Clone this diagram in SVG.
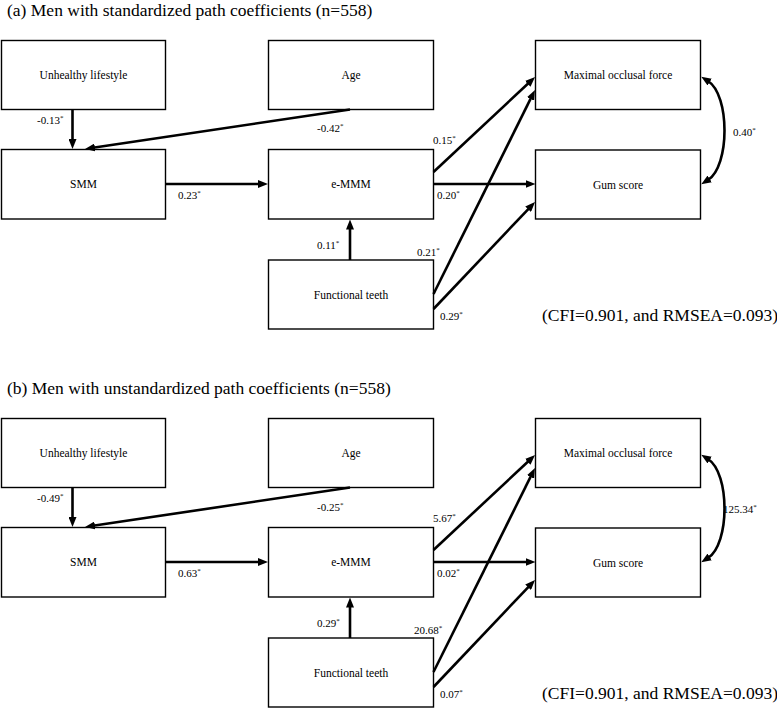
<svg xmlns="http://www.w3.org/2000/svg" width="777" height="709" viewBox="0 0 777 709">
<style>
text{font-family:"Liberation Serif","Times New Roman",serif;fill:#000}
.title{font-size:17.5px}
.fit{font-size:17.5px}
.node rect{fill:#fff;stroke:#000;stroke-width:1.4}
.node text{font-size:11.5px;text-anchor:middle}
.lbl{font-size:11px}
.sup{font-size:7px}
.conn line,.conn path{stroke:#000;stroke-width:2.6;fill:none;marker-end:url(#ah)}
.conn path.dbl{marker-start:url(#ah)}
</style>
<defs>
<marker id="ah" markerUnits="userSpaceOnUse" markerWidth="10" markerHeight="8" refX="2" refY="4" orient="auto-start-reverse">
<path d="M0,0 L10,4 L0,8 z" fill="#000"/>
</marker>
</defs>
<rect width="777" height="709" fill="#fff"/>

<g id="panel-a">
<text class="title" x="7" y="15.5">(a) Men with standardized path coefficients (n=558)</text>
<g id="a-unhealthy" class="node"><rect x="1.5" y="40.5" width="164" height="69"/><text x="83.5" y="79">Unhealthy lifestyle</text></g>
<g id="a-age" class="node"><rect x="268.5" y="40.5" width="165" height="69"/><text x="351" y="79">Age</text></g>
<g id="a-mof" class="node"><rect x="535.5" y="40.5" width="165" height="69"/><text x="618" y="79">Maximal occlusal force</text></g>
<g id="a-smm" class="node"><rect x="1.5" y="149.5" width="164" height="69.5"/><text x="83.5" y="188">SMM</text></g>
<g id="a-emmm" class="node"><rect x="268.5" y="149.5" width="165" height="69.5"/><text x="351" y="188">e-MMM</text></g>
<g id="a-gum" class="node"><rect x="535.5" y="150" width="165" height="69"/><text x="618" y="188.5">Gum score</text></g>
<g id="a-teeth" class="node"><rect x="268.5" y="260" width="165" height="69"/><text x="351" y="298.5">Functional teeth</text></g>
<g id="a-connectors" class="conn">
<line x1="72.5" y1="109.5" x2="72.5" y2="141"/>
<line x1="350" y1="109.5" x2="92.9" y2="147.8"/>
<line x1="165.5" y1="184" x2="260" y2="184"/>
<line x1="350" y1="260" x2="350" y2="227.5"/>
<line x1="433.5" y1="172" x2="529.2" y2="82.5"/>
<line x1="433.5" y1="184" x2="527.5" y2="184"/>
<line x1="433.5" y1="294" x2="531.4" y2="97.2"/>
<line x1="433.5" y1="309" x2="529.5" y2="207.8"/>
<path class="dbl" d="M708,81 C730,95 730,166 708,180"/>
</g>
<g id="a-labels" class="lbl">
<text class="lbl" x="37" y="124">-0.13<tspan class="sup" dy="-4">*</tspan></text>
<text class="lbl" x="317" y="132">-0.42<tspan class="sup" dy="-4">*</tspan></text>
<text class="lbl" x="178" y="199">0.23<tspan class="sup" dy="-4">*</tspan></text>
<text class="lbl" x="317" y="249">0.11<tspan class="sup" dy="-4">*</tspan></text>
<text class="lbl" x="433" y="144">0.15<tspan class="sup" dy="-4">*</tspan></text>
<text class="lbl" x="437" y="199">0.20<tspan class="sup" dy="-4">*</tspan></text>
<text class="lbl" x="417" y="256">0.21<tspan class="sup" dy="-4">*</tspan></text>
<text class="lbl" x="440" y="320">0.29<tspan class="sup" dy="-4">*</tspan></text>
<text class="lbl" x="733" y="136">0.40<tspan class="sup" dy="-4">*</tspan></text>
</g>
<text class="fit" x="542" y="321">(CFI=0.901, and RMSEA=0.093)</text>
</g>

<g id="panel-b" transform="translate(0,378)">
<text class="title" x="7" y="15.5">(b) Men with unstandardized path coefficients (n=558)</text>
<g id="b-unhealthy" class="node"><rect x="1.5" y="40.5" width="164" height="69"/><text x="83.5" y="79">Unhealthy lifestyle</text></g>
<g id="b-age" class="node"><rect x="268.5" y="40.5" width="165" height="69"/><text x="351" y="79">Age</text></g>
<g id="b-mof" class="node"><rect x="535.5" y="40.5" width="165" height="69"/><text x="618" y="79">Maximal occlusal force</text></g>
<g id="b-smm" class="node"><rect x="1.5" y="149.5" width="164" height="69.5"/><text x="83.5" y="188">SMM</text></g>
<g id="b-emmm" class="node"><rect x="268.5" y="149.5" width="165" height="69.5"/><text x="351" y="188">e-MMM</text></g>
<g id="b-gum" class="node"><rect x="535.5" y="150" width="165" height="69"/><text x="618" y="188.5">Gum score</text></g>
<g id="b-teeth" class="node"><rect x="268.5" y="260" width="165" height="69"/><text x="351" y="298.5">Functional teeth</text></g>
<g id="b-connectors" class="conn">
<line x1="72.5" y1="109.5" x2="72.5" y2="141"/>
<line x1="350" y1="109.5" x2="92.9" y2="147.8"/>
<line x1="165.5" y1="184" x2="260" y2="184"/>
<line x1="350" y1="260" x2="350" y2="227.5"/>
<line x1="433.5" y1="172" x2="529.2" y2="82.5"/>
<line x1="433.5" y1="184" x2="527.5" y2="184"/>
<line x1="433.5" y1="294" x2="531.4" y2="97.2"/>
<line x1="433.5" y1="309" x2="529.5" y2="207.8"/>
<path class="dbl" d="M708,81 C730,95 730,166 708,180"/>
</g>
<g id="b-labels" class="lbl">
<text class="lbl" x="37" y="124">-0.49<tspan class="sup" dy="-4">*</tspan></text>
<text class="lbl" x="317" y="133">-0.25<tspan class="sup" dy="-4">*</tspan></text>
<text class="lbl" x="178" y="199">0.63<tspan class="sup" dy="-4">*</tspan></text>
<text class="lbl" x="317" y="249">0.29<tspan class="sup" dy="-4">*</tspan></text>
<text class="lbl" x="433" y="144">5.67<tspan class="sup" dy="-4">*</tspan></text>
<text class="lbl" x="437" y="199">0.02<tspan class="sup" dy="-4">*</tspan></text>
<text class="lbl" x="414" y="256">20.68<tspan class="sup" dy="-4">*</tspan></text>
<text class="lbl" x="440" y="320">0.07<tspan class="sup" dy="-4">*</tspan></text>
<text class="lbl" x="723" y="135">125.34<tspan class="sup" dy="-4">*</tspan></text>
</g>
<text class="fit" x="542" y="321">(CFI=0.901, and RMSEA=0.093)</text>
</g>
</svg>
